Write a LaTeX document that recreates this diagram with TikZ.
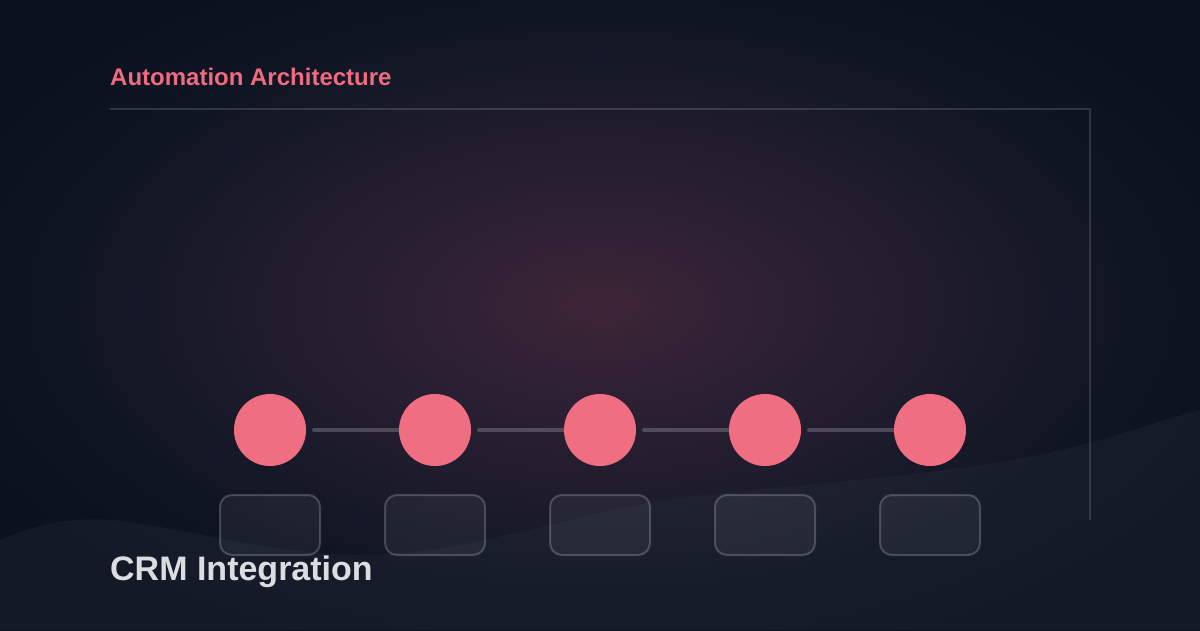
\documentclass[tikz,border=0pt]{standalone}
\usepackage{fontspec}
\setmainfont{Liberation Sans}
\definecolor{bgc}{HTML}{0B111E}
\definecolor{glow0}{HTML}{3D2537}
\definecolor{glow1}{HTML}{2B1F33}
\definecolor{glow2}{HTML}{191A2A}
\definecolor{glow3}{HTML}{0E1422}
\definecolor{accent}{HTML}{F06B80}
\definecolor{nodec}{HTML}{F06E82}
\definecolor{subt}{HTML}{DCDDE0}
\definecolor{wavec}{HTML}{111827}
\pgfdeclareradialshading{glow}{\pgfpoint{0bp}{0bp}}{color(0bp)=(glow0); color(8.5bp)=(glow1); color(17bp)=(glow2); color(23bp)=(glow3); color(29bp)=(bgc); color(50bp)=(bgc)}
\tikzset{
  stage/.style={circle, fill=nodec, minimum size=72pt, inner sep=0pt},
  card/.style={rounded corners=12pt, draw=white, draw opacity=0.2, line width=2pt, fill=white, fill opacity=0.05, minimum width=100pt, minimum height=60pt, inner sep=0pt},
  link/.style={white, opacity=0.2, line width=4pt, line cap=round},
  frame/.style={white, opacity=0.14, line width=1.6pt},
}
\begin{document}
\begin{tikzpicture}[x=1pt,y=-1pt]
\useasboundingbox (0,0) rectangle (1200,630);
\fill[bgc] (0,0) rectangle (1200,630);
\begin{scope}
\clip (0,0) rectangle (1200,630);
\fill[shading=glow] (0,-20) rectangle (1200,630);
\end{scope}
% wave
\path[fill=wavec, fill opacity=0.3] (0,540) .. controls (40,522) and (80,515) .. (130,522)
  .. controls (220,535) and (300,562) .. (400,553)
  .. controls (500,545) and (600,505) .. (700,495)
  .. controls (850,480) and (1000,470) .. (1100,440)
  .. controls (1140,428) and (1170,418) .. (1200,410)
  -- (1200,630) -- (0,630) -- cycle;
\path[fill=white, fill opacity=0.03] (0,540) .. controls (40,522) and (80,515) .. (130,522)
  .. controls (220,535) and (300,562) .. (400,553)
  .. controls (500,545) and (600,505) .. (700,495)
  .. controls (850,480) and (1000,470) .. (1100,440)
  .. controls (1140,428) and (1170,418) .. (1200,410)
  -- (1200,630) -- (0,630) -- cycle;
% frame
\coordinate (f1) at (110,109);
\coordinate (f2) at (1090,109);
\coordinate (f3) at (1090,520);
\draw[frame] (f1) -- (f2) -- (f3);
% title
\node[anchor=base west, inner sep=0pt, text=accent, font=\bfseries\fontsize{24}{28}\selectfont] (title) at (110,85.5) {Automation Architecture};
% stages
\foreach \i/\x in {1/270,2/435,3/600,4/765,5/930}{
  \coordinate (c\i) at (\x,430);
  \node[card] (b\i) at (\x,525) {};
}
\foreach \i/\j in {1/2,2/3,3/4,4/5}{
  \draw[link] ([xshift=44pt]c\i) -- (c\j);
}
\foreach \i in {1,...,5}{
  \node[stage] (n\i) at (c\i) {};
}
\node[anchor=base west, inner sep=0pt, text=subt, font=\bfseries\fontsize{34}{40}\selectfont] (sub) at (110,580) {CRM Integration};
\end{tikzpicture}
\end{document}
